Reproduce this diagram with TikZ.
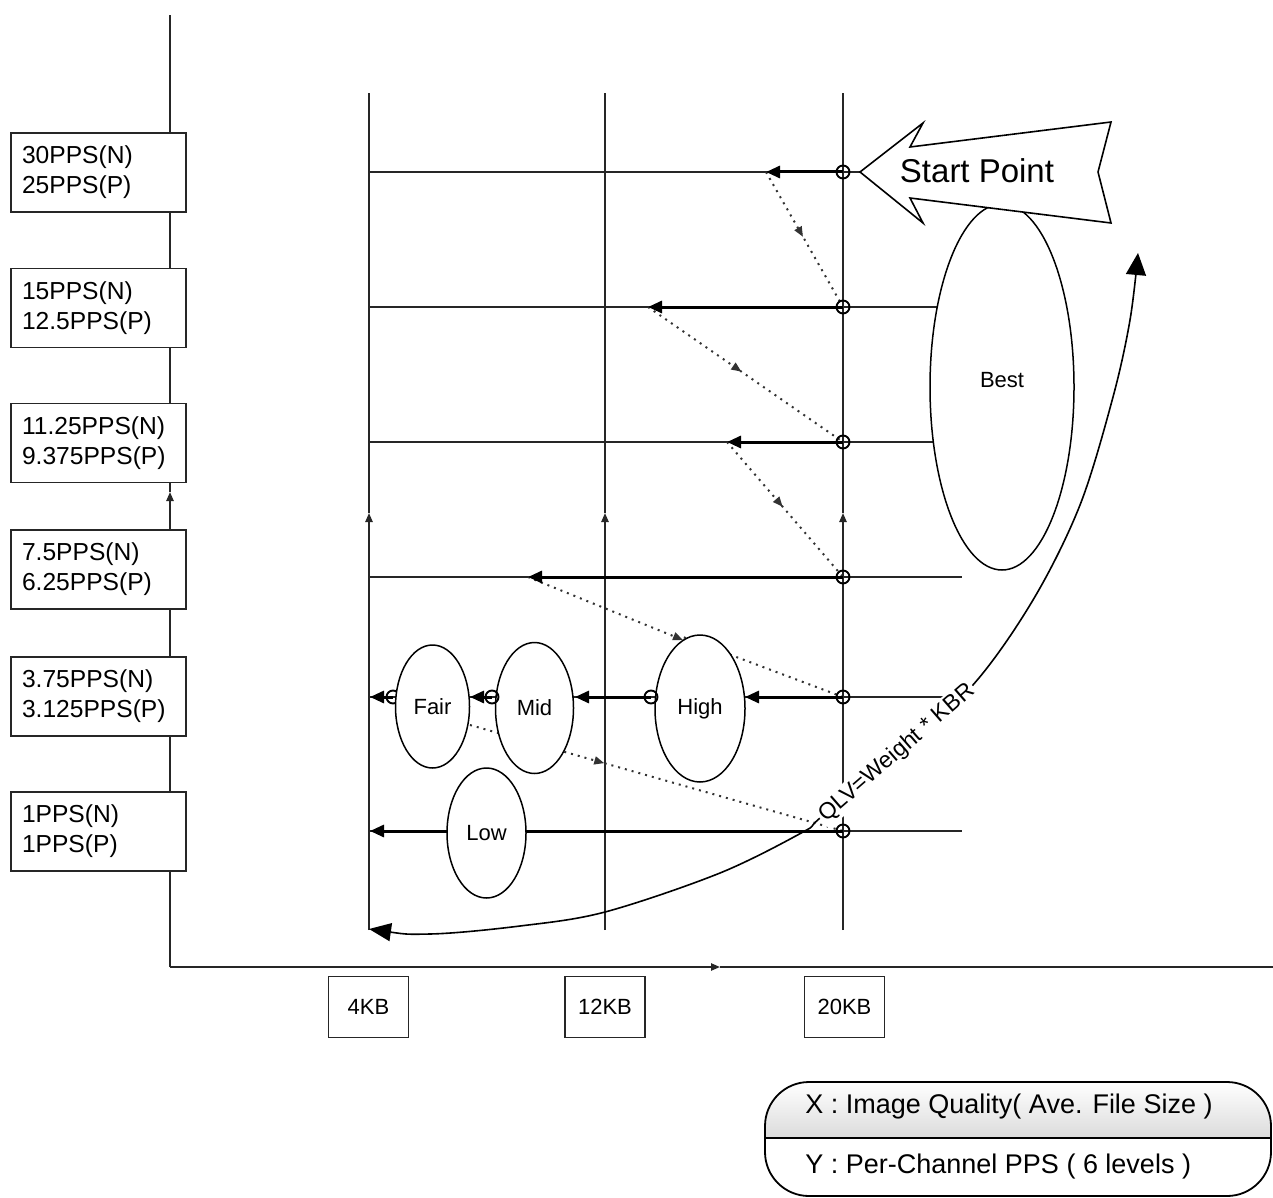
\documentclass[tikz,border=0pt]{standalone}
\usepackage{fontspec}
\setmainfont{Liberation Sans}
\usetikzlibrary{shapes.geometric,arrows.meta,decorations.markings}
\begin{document}
\begin{tikzpicture}[x=0.5pt,y=-0.5pt,
  gridline/.style={line width=0.9pt, draw=black!85},
  gridarrow/.style={gridline, -{Triangle[length=4.5pt,width=3.6pt]}},
  thickarrow/.style={line width=1.5pt, draw=black, -{Triangle[length=7pt,width=6pt]}},
  thickline/.style={line width=1.5pt, draw=black},
  dotline/.style={line width=1pt, draw=black!80, dash pattern=on 1pt off 2.5pt},
  midarrow/.style={dotline, postaction={decorate}, decoration={markings, mark=at position #1 with {\arrow{Triangle[length=5pt,width=4pt]}}}},
  endarrow/.style={dotline, -{Triangle[length=5pt,width=4pt]}},
  ring/.style={circle, draw, line width=0.95pt, minimum size=6.5pt, inner sep=0pt},
  ell/.style={ellipse, draw, line width=0.75pt, fill=white, inner sep=0pt, font=\fontsize{11}{13}\selectfont},
  ybox/.style={draw=black!85, line width=0.9pt, fill=white, minimum height=39.5pt, text width=76.5pt, inner xsep=5.5pt, inner ysep=0pt, align=left, font=\fontsize{12.3}{15}\selectfont},
  xbox/.style={draw=black!85, line width=0.9pt, fill=white, minimum width=40pt, minimum height=30.5pt, inner sep=0pt, font=\fontsize{11}{12}\selectfont},
  plain/.style={inner sep=0pt}
]
\useasboundingbox (0,0) rectangle (1273,1198);

% axes
\coordinate (yaxb) at (170,967);
\coordinate (yaxm) at (170,492);
\coordinate (yaxt) at (170,15);
\coordinate (xaxm) at (720,967);
\coordinate (xaxe) at (1273,967);
\draw[gridarrow] (yaxb) -- (yaxm);
\draw[gridline] (yaxm) -- (yaxt);
\draw[gridarrow] (yaxb) -- (xaxm);
\draw[gridline] (xaxm) -- (xaxe);

% vertical grid lines
\foreach \xx in {369,605,843}{
  \draw[gridarrow] (\xx,930) -- (\xx,513);
  \draw[gridline] (\xx,513) -- (\xx,93);
}

% row lines
\draw[gridline] (369,172) -- (860,172);
\draw[gridline] (369,307) -- (1000,307);
\draw[gridline] (369,442) -- (1000,442);
\draw[gridline] (369,577) -- (962,577);
\draw[gridline] (369,697) -- (945,697);
\draw[gridline] (369,831) -- (962,831);

% dotted transitions
\draw[midarrow=0.48] (766,172) -- (843,307);
\draw[midarrow=0.48] (648,307) -- (843,442);
\draw[midarrow=0.48] (727,442) -- (843,577);
\draw[endarrow] (528,577) -- (683,640);
\draw[dotline] (843,697) -- (683,637);
\draw[midarrow=0.36] (470,725) -- (843,831);

% thick arrows
\draw[thickarrow] (843,172) -- (766,172);
\draw[thickarrow] (843,307) -- (648,307);
\draw[thickarrow] (843,442) -- (727,442);
\draw[thickarrow] (843,577) -- (528,577);
\draw[thickarrow] (843,697) -- (745,697);
\draw[thickarrow] (651,697) -- (575,697);
\draw[thickarrow] (492,697) -- (470,697);
\draw[thickarrow] (393,697) -- (370,697);
\draw[thickline] (843,831) -- (520,831);
\draw[thickarrow] (450,831) -- (370,831);

\node[ring] (r5a) at (393,697) {};

% ellipses
\node[ell, minimum width=72pt, minimum height=183pt] (best) at (1002,387) {};
\node[plain, font=\fontsize{11}{13}\selectfont] (bestlbl) at (1002,380) {Best};
\node[ell, minimum width=45pt, minimum height=73.5pt] (high) at (700,708.5) {High};
\node[ell, minimum width=39pt, minimum height=65.5pt] (mid) at (534.5,708) {Mid};
\node[ell, minimum width=37pt, minimum height=61.5pt] (fair) at (432.5,706.5) {Fair};
\node[ell, minimum width=39.5pt, minimum height=65pt] (low) at (486.5,833) {Low};

% rings
\foreach \yy in {172,307,442,577,697,831}{
  \node[ring] at (843,\yy) {};
}
\node[ring] (r5b) at (492,697) {};
\node[ring] (r5c) at (651,697) {};

% start point arrow
\draw[line width=0.8pt, fill=white] (860,172) -- (923,123) -- (910,147) -- (1111,122) -- (1098,172) -- (1111,223) -- (910,198) -- (923,223) -- cycle;
\node[font=\fontsize{16.5}{19}\selectfont] (start) at (977,171) {Start Point};

% QLV curve
\draw[line width=0.8pt, {Triangle[length=11pt,width=9pt]}-{Triangle[length=11pt,width=10pt]}]
  plot[smooth, tension=0.55] coordinates {(369,929) (430,934) (520,926) (605,912) (720,873) (803,832) (820,818) (896,752) (972,686) (1033,600) (1080,505) (1113,397) (1130,320) (1138,253)};
\node[rotate=41, fill=white, inner sep=1pt, font=\fontsize{11.5}{13}\selectfont] (qlv) at (897,753) {QLV=Weight * KBR};

% y labels
\node[ybox] (b1) at (98.5,172.5) {30PPS(N)\\25PPS(P)};
\node[ybox] (b2) at (98.5,308) {15PPS(N)\\12.5PPS(P)};
\node[ybox] (b3) at (98.5,443) {11.25PPS(N)\\9.375PPS(P)};
\node[ybox] (b4) at (98.5,569.5) {7.5PPS(N)\\6.25PPS(P)};
\node[ybox] (b5) at (98.5,696.5) {3.75PPS(N)\\3.125PPS(P)};
\node[ybox] (b6) at (98.5,831.5) {1PPS(N)\\1PPS(P)};

% x labels
\node[xbox] (k4) at (368.5,1007) {4KB};
\node[xbox] (k12) at (605,1007) {12KB};
\node[xbox] (k20) at (844.5,1007) {20KB};

% legend
\begin{scope}
\clip[rounded corners=22pt] (765,1082) rectangle (1271,1196);
\shade[top color=white, bottom color=black!14] (765,1082) rectangle (1271,1138);
\end{scope}
\draw[line width=0.9pt, rounded corners=22pt] (765,1082) rectangle (1271,1196);
\draw[line width=1.3pt] (765,1138) -- (1271,1138);
\node[anchor=base west, inner sep=0pt, font=\fontsize{13.5}{16}\selectfont] (lx) at (805,1113) {X : Image Quality( Ave. File Size )};
\node[anchor=base west, inner sep=0pt, font=\fontsize{13.5}{16}\selectfont] (ly) at (805,1173) {Y : Per-Channel PPS ( 6 levels )};
\end{tikzpicture}
\end{document}
